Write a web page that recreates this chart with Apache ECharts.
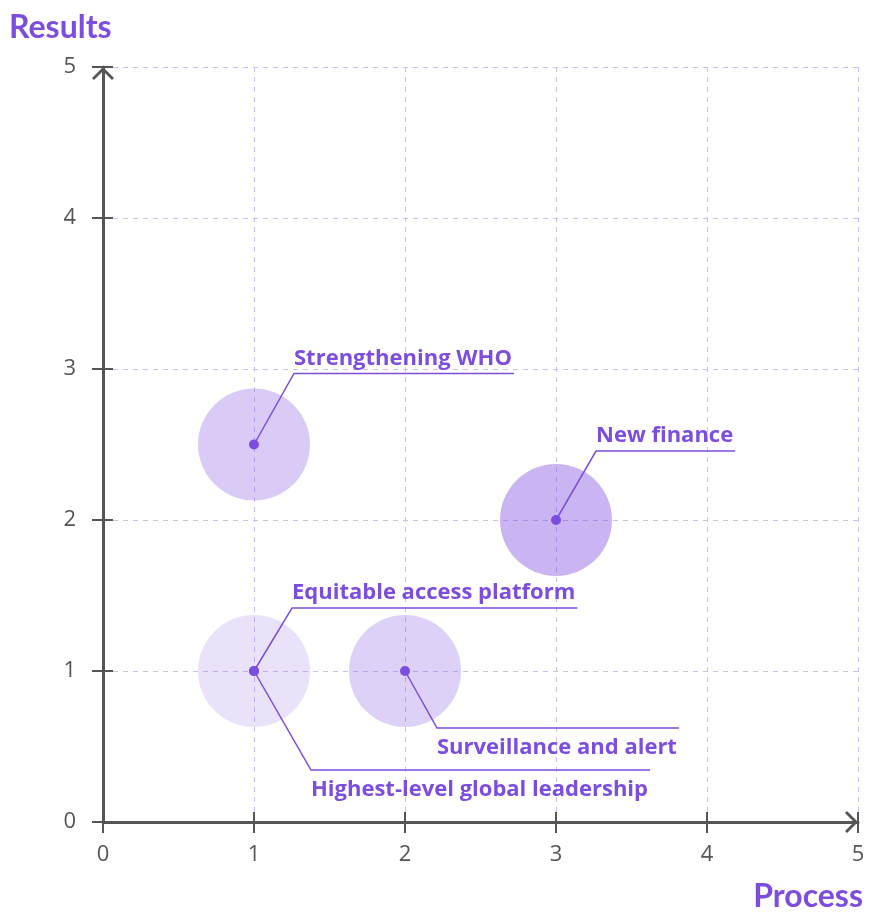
<!DOCTYPE html>
<html>
<head>
<meta charset="utf-8">
<script src="https://cdn.jsdelivr.net/npm/echarts@6/dist/echarts.min.js"></script>
<style>
  html, body { margin: 0; padding: 0; background: #fff; }
  #chart { width: 869px; height: 914px; }
</style>
</head>
<body>
<div id="chart"></div>
<script>
// initiatives scored on process (x) and results (y)
const initiatives = [
  'Strengthening WHO',
  'New finance',
  'Equitable access platform',
  'Surveillance and alert',
  'Highest-level global leadership'
]
const processScores = [1, 3, 1, 2, 1]
const resultScores = [2.5, 2, 1, 1, 1]
const bubbleShade = [0.36, 0.52, 0.11, 0.32, 0.11]
const axisTicks = [0, 1, 2, 3, 4, 5]

// label leader offsets in px from the dot (layout only)
const labelLayout = [
  { dx: 40, dy: -71, above: true },
  { dx: 40, dy: -69, above: true },
  { dx: 38, dy: -63, above: true },
  { dx: 32, dy: 57, above: false },
  { dx: 57, dy: 99, above: false }
]

const PURPLE = '#7c4ddf'
const AXIS = '#555555'
const LABEL_FONT = 'bold 22px "Open Sans"'

const measureCtx = document.createElement('canvas').getContext('2d')
measureCtx.font = LABEL_FONT
const textWidth = (t) => measureCtx.measureText(t).width

const points = initiatives.map((n, i) => [processScores[i], resultScores[i]])

const chart = echarts.init(document.getElementById('chart'))

const baseAxis = {
  type: 'value',
  min: axisTicks[0],
  max: axisTicks[axisTicks.length - 1],
  interval: 1
}

const chevron = 'path://M0,0 L11,11 L9,13 L0,4 L-9,13 L-11,11 Z'

const option = {
  backgroundColor: '#fff',
  animation: false,
  grid: { left: 103, right: 11, top: 67, bottom: 92, containLabel: false },
  xAxis: [
    Object.assign({}, baseAxis, {
      axisLine: {
        show: true,
        lineStyle: { color: AXIS, width: 3 },
        symbol: ['none', chevron],
        symbolSize: [22, 13],
        symbolOffset: [0, -6.5]
      },
      axisTick: { show: true, length: 11, lineStyle: { color: AXIS, width: 2 } },
      axisLabel: { color: AXIS, fontSize: 22, fontFamily: 'Open Sans', margin: 22 },
      splitLine: { show: true, lineStyle: { color: '#cdbfee', width: 1, type: [5, 5] } }
    }),
    Object.assign({}, baseAxis, {
      position: 'bottom',
      axisLine: { show: false },
      axisTick: { show: true, inside: true, length: 10, lineStyle: { color: AXIS, width: 2 } },
      axisLabel: { show: false },
      splitLine: { show: false }
    })
  ],
  yAxis: [
    Object.assign({}, baseAxis, {
      axisLine: {
        show: true,
        lineStyle: { color: AXIS, width: 3 },
        symbol: ['none', chevron],
        symbolSize: [22, 13],
        symbolOffset: [0, -6.5]
      },
      axisTick: { show: true, length: 11, lineStyle: { color: AXIS, width: 2 } },
      axisLabel: { color: AXIS, fontSize: 22, fontFamily: 'Open Sans', margin: 27 },
      splitLine: { show: true, lineStyle: { color: '#cdbfee', width: 1, type: [5, 5] } }
    }),
    Object.assign({}, baseAxis, {
      position: 'left',
      axisLine: { show: false },
      axisTick: { show: true, inside: true, length: 10, lineStyle: { color: AXIS, width: 2 } },
      axisLabel: { show: false },
      splitLine: { show: false }
    })
  ],
  graphic: [
    {
      type: 'text', left: 9, top: 12,
      style: { text: 'Results', font: 'bold 32px Lato', fill: PURPLE }
    },
    {
      type: 'text', right: 6, top: 881,
      style: { text: 'Process', font: 'bold 32px Lato', fill: PURPLE }
    }
  ],
  series: [
    {
      type: 'scatter',
      symbolSize: 112,
      z: 1,
      data: points.map((p, i) => ({
        value: p,
        itemStyle: { color: 'rgba(124, 77, 223, ' + bubbleShade[i] + ')' }
      }))
    },
    {
      type: 'custom',
      z: 5,
      data: points,
      renderItem: (params, api) => {
        const i = params.dataIndex
        const p = api.coord([api.value(0), api.value(1)])
        const lay = labelLayout[i]
        const ex = p[0] + lay.dx
        const ey = p[1] + lay.dy
        const w = textWidth(initiatives[i]) + 2
        return {
          type: 'group',
          children: [
            {
              type: 'polyline',
              shape: { points: [p, [ex, ey], [ex + w, ey]] },
              style: { stroke: PURPLE, lineWidth: 1.5, fill: null }
            },
            {
              type: 'circle',
              shape: { cx: p[0], cy: p[1], r: 5 },
              style: { fill: PURPLE }
            },
            {
              type: 'text',
              style: {
                text: initiatives[i],
                x: ex,
                y: lay.above ? ey - 15 : ey + 20,
                font: LABEL_FONT,
                fill: PURPLE,
                verticalAlign: 'middle',
                align: 'left'
              }
            }
          ]
        }
      }
    }
  ]
}

chart.setOption(option)
</script>
</body>
</html>
